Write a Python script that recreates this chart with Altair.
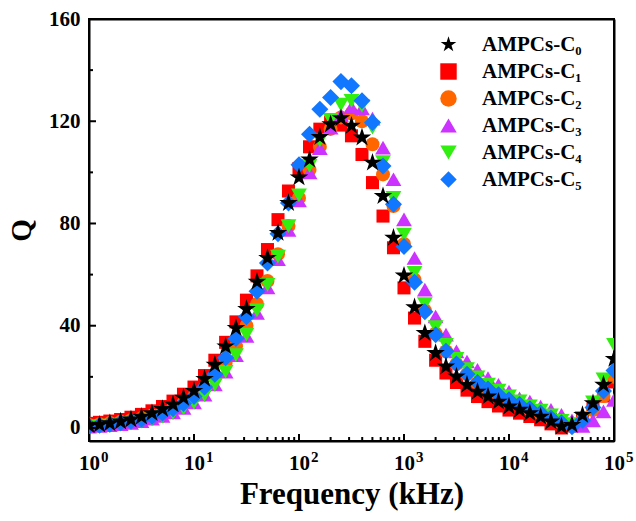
import altair as alt
import pandas as pd

# ---------------- data ----------------
freq = [1, 1.26, 1.58, 2, 2.51, 3.16, 3.98, 5.01, 6.31, 7.94,
        10, 12.6, 15.8, 20, 25.1, 31.6, 39.8, 50.1, 63.1, 79.4,
        100, 126, 158, 200, 251, 316, 398, 501, 631, 794,
        1000, 1260, 1580, 2000, 2510, 3160, 3980, 5010, 6310, 7940,
        10000, 12600, 15800, 20000, 25100, 31600, 39800, 50100, 63100, 79400,
        100000]

q_c0 = [1.0, 1.3, 1.8, 2.5, 3.3, 4.4, 5.8, 7.4, 9.2, 11.8,
        14.5, 19.2, 24.7, 31.9, 39.1, 46.5, 57.2, 66.5, 76.3, 88.0,
        98.0, 105.0, 113.8, 118.8, 121.2, 118.2, 113.6, 103.8, 90.7, 74.4,
        59.6, 47.2, 37.1, 29.3, 24.0, 20.1, 16.9, 14.2, 12.3, 10.3,
        8.4, 7.1, 5.8, 4.4, 2.5, 0.6, 1.2, 5.1, 9.7, 16.9,
        27.0]
q_c1 = [1.8, 2.2, 2.7, 3.3, 4.2, 5.3, 6.7, 8.4, 10.5, 13.2,
        16.0, 20.5, 26.5, 33.5, 41.5, 50.0, 59.5, 69.8, 81.5, 92.7,
        101.5, 110.0, 116.9, 119.5, 118.5, 114.3, 107.0, 96.0, 82.9, 70.5,
        54.8, 43.0, 33.9, 26.5, 21.5, 17.8, 14.8, 12.3, 10.3, 8.6,
        7.0, 5.8, 4.5, 3.2, 1.6, 0.0, 0.8, 3.5, 7.5, 12.5,
        18.0]
q_c2 = [1.2, 1.5, 1.9, 2.4, 3.0, 3.8, 4.9, 6.2, 7.8, 9.8,
        12.2, 15.5, 20.0, 25.5, 32.0, 40.0, 48.5, 57.5, 68.0, 79.0,
        90.0, 101.0, 110.0, 117.0, 121.5, 123.0, 120.0, 111.0, 99.2, 86.8,
        72.0, 58.0, 46.0, 37.0, 30.0, 25.0, 21.0, 17.5, 15.0, 12.8,
        10.8, 9.0, 7.3, 5.6, 3.8, 2.0, 1.0, 3.0, 7.0, 12.5,
        20.0]
q_c3 = [0.5, 0.8, 1.1, 1.5, 2.0, 2.7, 3.6, 4.7, 6.1, 7.8,
        10.0, 13.0, 17.0, 22.0, 28.5, 36.0, 45.0, 55.0, 66.0, 77.5,
        89.0, 100.0, 109.5, 117.5, 122.5, 125.5, 125.0, 121.0, 109.7, 97.3,
        81.6, 66.5, 54.1, 43.6, 36.5, 30.0, 26.0, 22.7, 19.5, 16.9,
        14.2, 11.6, 10.3, 8.4, 7.1, 5.1, 3.0, 0.8, 3.0, 6.5,
        11.0]
q_c4 = [0.3, 0.6, 0.9, 1.3, 1.8, 2.5, 3.3, 4.4, 5.8, 7.6,
        9.8, 12.8, 16.8, 22.0, 28.5, 36.5, 46.0, 56.0, 67.0, 79.0,
        91.0, 102.5, 112.5, 120.5, 126.5, 128.0, 126.0, 117.5, 104.0, 90.0,
        75.7, 60.7, 48.5, 39.5, 32.5, 27.0, 23.0, 19.8, 17.0, 14.6,
        12.4, 10.4, 8.5, 6.8, 4.9, 2.8, 1.5, 4.0, 10.0, 19.0,
        32.5]
q_c5 = [0.8, 1.1, 1.5, 2.0, 2.6, 3.4, 4.5, 5.8, 7.5, 9.6,
        12.3, 16.0, 21.0, 27.5, 35.0, 43.5, 53.5, 64.5, 76.0, 88.0,
        103.0, 114.9, 124.7, 129.3, 135.5, 133.9, 128.0, 119.5, 102.5, 87.5,
        71.0, 57.0, 45.5, 36.5, 30.0, 25.0, 21.0, 17.8, 15.2, 13.0,
        11.0, 9.2, 7.5, 5.8, 3.9, 2.0, 0.5, 3.0, 8.0, 14.5,
        22.5]

series_names = ["AMPCs-C\u2080", "AMPCs-C\u2081", "AMPCs-C\u2082",
                "AMPCs-C\u2083", "AMPCs-C\u2084", "AMPCs-C\u2085"]
series_values = [q_c0, q_c1, q_c2, q_c3, q_c4, q_c5]

x_major = [1, 10, 100, 1000, 10000, 100000]
x_base = "10"
x_exponents = ["0", "1", "2", "3", "4", "5"]
x_minor = [m * d for d in [1, 10, 100, 1000, 10000] for m in [2, 3, 4, 5, 6, 7, 8, 9]]
y_major = [0, 40, 80, 120, 160]
y_minor = [20, 60, 100, 140]
x_lim = [1, 100000]
y_lim = [-5.1, 160]

# ---------------- styles ----------------
STAR = ("M0,-1L0.2245,-0.309L0.951,-0.309L0.363,0.118L0.588,0.809L0,0.382"
        "L-0.588,0.809L-0.363,0.118L-0.951,-0.309L-0.2245,-0.309Z")
colors = ["#000000", "#ff0000", "#ff6600", "#cc33ff", "#33ee11", "#1177ff"]
shapes = [STAR, "square", "circle", "triangle-up", "triangle-down", "diamond"]
sizes = [380, 170, 196, 250, 250, 290]
draw_order = [1, 2, 3, 4, 5, 0]

rows = []
for rank, i in enumerate(draw_order):
    for f, q in zip(freq, series_values[i]):
        rows.append({"Frequency": f, "Q": q, "series": series_names[i],
                     "rank": rank, "sz": sizes[i]})
df = pd.DataFrame(rows)

FONT = "Liberation Serif"
W, H = 525, 422

xscale = alt.Scale(type="log", domain=x_lim, nice=False)
yscale = alt.Scale(domain=y_lim, nice=False, zero=False)

xaxis = alt.Axis(values=x_major, labelExpr=f"'{x_base}'", title="Frequency (kHz)",
                 tickSize=0, grid=False, domain=True, domainColor="black", domainWidth=2,
                 labelPadding=11, titlePadding=6, labelFontSize=21, titleFontSize=31,
                 labelFlush=False, labelOverlap=False)
yaxis = alt.Axis(values=y_major, title="Q", tickSize=0, grid=False, domain=True,
                 domainColor="black", domainWidth=2, labelPadding=9, titlePadding=12,
                 labelFontSize=21, titleFontSize=29, labelFlush=False)
top_axis = alt.Axis(orient="top", labels=False, ticks=False, title=None, grid=False,
                    domain=True, domainColor="black", domainWidth=2)
right_axis = alt.Axis(orient="right", labels=False, ticks=False, title=None, grid=False,
                      domain=True, domainColor="black", domainWidth=2)

points = alt.Chart(df).mark_point(filled=True, opacity=1, clip=True, strokeWidth=0).encode(
    x=alt.X("Frequency:Q", scale=xscale, axis=xaxis),
    y=alt.Y("Q:Q", scale=yscale, axis=yaxis),
    color=alt.Color("series:N", scale=alt.Scale(domain=series_names, range=colors),
                    legend=alt.Legend(orient="none", legendX=349, legendY=15, title=None,
                                      labelFont=FONT, labelFontSize=21, labelFontWeight="bold",
                                      labelColor="black", symbolSize=270, rowPadding=5,
                                      labelOffset=23, padding=0, symbolStrokeWidth=0)),
    shape=alt.Shape("series:N", scale=alt.Scale(domain=series_names, range=shapes)),
    size=alt.Size("sz:Q", scale=None),
    order=alt.Order("rank:Q"),
)

xmaj_df = pd.DataFrame({"Frequency": x_major, "exp": x_exponents})
xmin_df = pd.DataFrame({"Frequency": x_minor})
ymaj_df = pd.DataFrame({"Q": y_major})
ymin_df = pd.DataFrame({"Q": y_minor})

xmaj = alt.Chart(xmaj_df).mark_rule(color="black", strokeWidth=2).encode(
    x=alt.X("Frequency:Q", scale=xscale, axis=None), y=alt.value(H), y2=alt.value(H - 7))
xmin = alt.Chart(xmin_df).mark_rule(color="black", strokeWidth=2).encode(
    x=alt.X("Frequency:Q", scale=xscale, axis=None), y=alt.value(H), y2=alt.value(H - 4))
ymaj = alt.Chart(ymaj_df).mark_rule(color="black", strokeWidth=2).encode(
    y=alt.Y("Q:Q", scale=yscale, axis=None), x=alt.value(0), x2=alt.value(7))
ymin = alt.Chart(ymin_df).mark_rule(color="black", strokeWidth=2).encode(
    y=alt.Y("Q:Q", scale=yscale, axis=None), x=alt.value(0), x2=alt.value(4))

exps = alt.Chart(xmaj_df).mark_text(
    font=FONT, fontSize=15, fontWeight="bold", color="black", align="left",
    baseline="top", dx=12).encode(
    x=alt.X("Frequency:Q", scale=xscale, axis=None), y=alt.value(H + 9), text="exp:N")

# frame: top and right borders as extra axis domains
frame_df = pd.DataFrame({"Frequency": x_lim, "Q": y_lim})
frame = alt.Chart(frame_df).mark_point(opacity=0).encode(
    x=alt.X("Frequency:Q", scale=xscale, axis=top_axis),
    y=alt.Y("Q:Q", scale=yscale, axis=right_axis))

chart = alt.layer(points, xmaj, xmin, ymaj, ymin, exps, frame).resolve_axis(
    x="independent", y="independent"
).properties(
    width=W, height=H,
    autosize=alt.AutoSizeParams(type="none"),
    padding={"left": 89, "top": 19, "right": 22, "bottom": 80},
    background="white",
).configure_view(
    stroke="black", strokeWidth=2
).configure_axis(
    labelFont=FONT, labelFontWeight="bold", labelColor="black",
    titleFont=FONT, titleFontWeight="bold", titleColor="black",
)

chart.save("out.html", embed_options={"renderer": "svg", "actions": False})
